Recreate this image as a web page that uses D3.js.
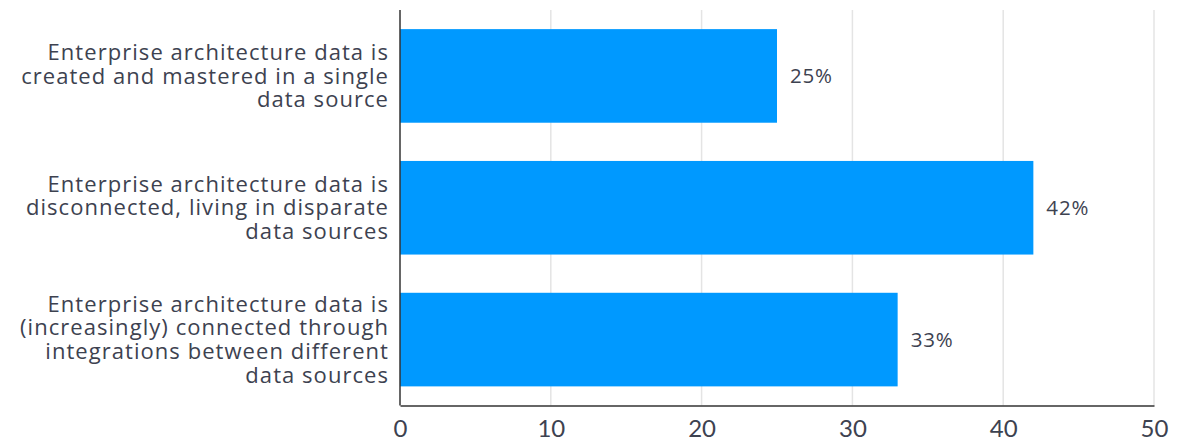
<!DOCTYPE html>
<html>
<head>
<meta charset="utf-8">
<script src="https://cdn.jsdelivr.net/npm/d3@7"></script>
<style>
  html, body { margin: 0; padding: 0; background: #ffffff; }
  svg { display: block; }
</style>
</head>
<body>
<svg id="chart" width="1178" height="442"></svg>
<script>
const categories = [
  "Enterprise architecture data is\ncreated and mastered in a single\ndata source",
  "Enterprise architecture data is\ndisconnected, living in disparate\ndata sources",
  "Enterprise architecture data is\n(increasingly) connected through\nintegrations between different\ndata sources"
];
const values = [25, 42, 33];
const valueLabels = ["25%", "42%", "33%"];
const tickValues = [0, 10, 20, 30, 40, 50];

(function () {
const svg = d3.select("#chart");
const mLeft = 400, mRight = 1154, mTop = 10, mBottom = 405.5;
const font = "Lato, 'Noto Sans', sans-serif";
const labelFont = "'Open Sans', 'Noto Sans', sans-serif";

const x = d3.scaleLinear().domain([0, 50]).range([mLeft, mRight]);
const y = d3.scaleBand().domain(d3.range(categories.length)).range([mTop, mBottom]).paddingInner(0.29).paddingOuter(0.145);

// gridlines
svg.append("g").selectAll("line").data(tickValues.filter(d => d > 0)).join("line")
  .attr("x1", d => x(d)).attr("x2", d => x(d))
  .attr("y1", mTop).attr("y2", mBottom)
  .attr("stroke", "#e4e4e4").attr("stroke-width", 1.5);

// bars
svg.append("g").selectAll("rect").data(values).join("rect")
  .attr("x", x(0)).attr("y", (d, i) => y(i))
  .attr("width", d => x(d) - x(0)).attr("height", y.bandwidth())
  .attr("fill", "#0099ff");

// value labels
svg.append("g").selectAll("text").data(values).join("text")
  .attr("x", d => x(d) + 13).attr("y", (d, i) => y(i) + y.bandwidth() / 2)
  .attr("dy", "0.35em")
  .attr("font-family", labelFont).attr("font-size", 20.5).attr("letter-spacing", 0.8)
  .attr("fill", "#3d4250")
  .text((d, i) => valueLabels[i]);

// x axis
const xAxis = d3.axisBottom(x).tickValues(tickValues).tickSize(0).tickPadding(14);
const gx = svg.append("g").attr("transform", `translate(0,${mBottom})`).call(xAxis);
gx.select(".domain").attr("stroke", "#333").attr("stroke-width", 1.5);
gx.selectAll("text").attr("font-family", font).attr("font-size", 24)
  .attr("fill", "#3d4250");

// y axis line
svg.append("line").attr("x1", mLeft).attr("x2", mLeft).attr("y1", mTop).attr("y2", mBottom)
  .attr("stroke", "#333").attr("stroke-width", 1.5);

// category labels
const lh = 23.8;
const lab = svg.append("g").selectAll("text").data(categories).join("text")
  .attr("font-family", labelFont).attr("font-size", 22).attr("letter-spacing", 1.05)
  .attr("fill", "#3d4250")
  .attr("text-anchor", "end");
lab.each(function (d, i) {
  const lines = d.split("\n");
  const cy = y(i) + y.bandwidth() / 2;
  const t = d3.select(this);
  lines.forEach((ln, j) => {
    t.append("tspan").attr("x", 389)
      .attr("y", cy + (j - (lines.length - 1) / 2) * lh)
      .attr("dy", "0.35em").text(ln);
  });
});
})();
</script>
</body>
</html>
